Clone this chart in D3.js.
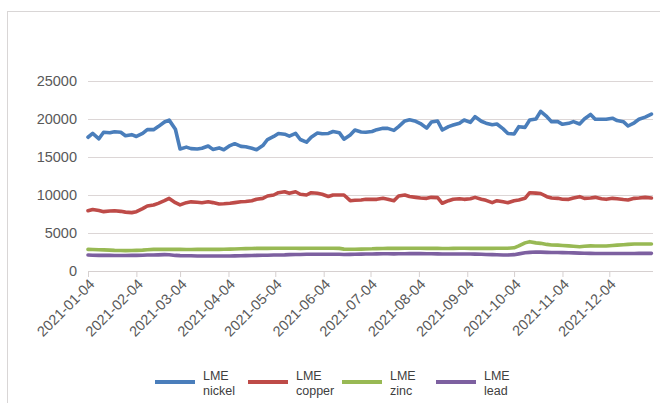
<!DOCTYPE html>
<html>
<head>
<meta charset="utf-8">
<script src="https://cdn.jsdelivr.net/npm/d3@7"></script>
<style>
body { margin: 0; background: #fff; }
svg { display: block; }
.axis text { font-family: "Liberation Sans", Arial, sans-serif; fill: #595959; }
</style>
</head>
<body>
<svg width="660" height="403"></svg>
<script>
// trading days sampled (Mon / Thu), year 2021
var dates = [
  "01-04","01-07","01-11","01-14","01-18","01-21","01-25","01-28",
  "02-01","02-04","02-08","02-11","02-15","02-18","02-22","02-25",
  "03-01","03-04","03-08","03-11","03-15","03-18","03-22","03-25","03-29",
  "04-01","04-05","04-08","04-12","04-15","04-19","04-22","04-26","04-29",
  "05-03","05-06","05-10","05-13","05-17","05-20","05-24","05-27","05-31",
  "06-03","06-07","06-10","06-14","06-17","06-21","06-24","06-28",
  "07-01","07-05","07-08","07-12","07-15","07-19","07-22","07-26","07-29",
  "08-02","08-05","08-09","08-12","08-16","08-19","08-23","08-26","08-30",
  "09-02","09-06","09-09","09-13","09-16","09-20","09-23","09-27","09-30",
  "10-04","10-07","10-11","10-14","10-18","10-21","10-25","10-28",
  "11-01","11-04","11-08","11-11","11-15","11-18","11-22","11-25","11-29",
  "12-02","12-06","12-09","12-13","12-16","12-20","12-23","12-27","12-31"
];

var nickel = [
  17600, 18100, 17400, 18250, 18200, 18330, 18250, 17800,
  17940, 17700, 18100, 18600, 18600, 19000, 19600, 19850,
  18650, 16050, 16300, 16100, 16050, 16150, 16450, 16000, 16200,
  15950, 16500, 16750, 16400, 16350, 16150, 15950, 16500, 17300,
  17700, 18100, 18000, 17750, 18100, 17300, 16950, 17600, 18150,
  18050, 18100, 18350, 18200, 17350, 17900, 18550, 18300,
  18250, 18350, 18600, 18770, 18770, 18500, 19000, 19750, 19900,
  19700, 19400, 18800, 19600, 19740, 18550, 19000, 19200, 19450,
  19870, 19550, 20300, 19700, 19450, 19250, 19340, 18700, 18100,
  18030, 18990, 18900, 19870, 20000, 21000, 20300, 19650,
  19650, 19300, 19430, 19650, 19350, 20000, 20600, 19960, 19960,
  19960, 20100, 19800, 19650, 19080, 19500, 19960, 20250, 20650
];

var copper = [
  7930, 8100, 7950, 7810, 7900, 7930, 7850, 7750,
  7680, 7800, 8200, 8550, 8680, 8900, 9250, 9550,
  8990, 8700, 8990, 9100, 9050, 8990, 9100, 9000, 8820,
  8850, 8910, 9000, 9120, 9150, 9250, 9450, 9560, 9870,
  10000, 10300, 10430, 10220, 10430, 10100, 10000, 10300, 10220,
  10100, 9800, 10000, 10000, 10000, 9250, 9300, 9350,
  9430, 9430, 9430, 9560, 9450, 9250, 9870, 10000, 9800,
  9690, 9600, 9560, 9690, 9650, 8910, 9250, 9450, 9500,
  9430, 9500, 9690, 9450, 9300, 8990, 9250, 9100, 8990,
  9250, 9350, 9560, 10300, 10250, 10200, 9780, 9600,
  9560, 9450, 9430, 9600, 9780, 9560, 9600, 9690, 9500,
  9430, 9560, 9500, 9400, 9340, 9560, 9600, 9690, 9600
];

var zinc = [
  2850, 2830, 2800, 2780, 2750, 2720, 2700, 2680,
  2700, 2720, 2750, 2800, 2850, 2850, 2850, 2850,
  2850, 2850, 2830, 2830, 2850, 2850, 2850, 2850, 2850,
  2870, 2880, 2900, 2930, 2950, 2960, 2980, 2980, 2980,
  2990, 3000, 3000, 3000, 2990, 2980, 2990, 3000, 3000,
  3000, 3000, 2990, 2980, 2880, 2860, 2870, 2880,
  2900, 2920, 2950, 2970, 2980, 2980, 2980, 2990, 2990,
  3000, 2990, 2980, 2980, 2980, 2970, 2970, 2980, 2990,
  2990, 2980, 2990, 2980, 2980, 2980, 2990, 3000, 3000,
  3050, 3300, 3700, 3860, 3700, 3640, 3500, 3420,
  3400, 3350, 3300, 3250, 3200, 3250, 3300, 3290, 3280,
  3290, 3350, 3400, 3450, 3500, 3550, 3550, 3550, 3550
];

var lead = [
  2100, 2080, 2050, 2050, 2050, 2040, 2030, 2030,
  2050, 2050, 2080, 2100, 2100, 2120, 2150, 2130,
  2050, 2020, 2000, 2000, 1980, 1980, 1970, 1970, 1970,
  1970, 1980, 1990, 2000, 2020, 2040, 2060, 2070, 2080,
  2100, 2100, 2120, 2150, 2170, 2180, 2200, 2200, 2200,
  2200, 2200, 2210, 2200, 2180, 2190, 2200, 2220,
  2240, 2240, 2250, 2260, 2260, 2250, 2260, 2270, 2280,
  2280, 2280, 2270, 2260, 2250, 2240, 2240, 2240, 2240,
  2240, 2230, 2220, 2200, 2180, 2150, 2130, 2100, 2100,
  2150, 2250, 2400, 2450, 2500, 2480, 2450, 2440,
  2430, 2420, 2400, 2380, 2350, 2330, 2320, 2300, 2300,
  2300, 2300, 2300, 2310, 2300, 2300, 2320, 2320, 2320
];

var seriesNames = ["LME nickel", "LME copper", "LME zinc", "LME lead"];
var colors = ["#4a7ebb", "#be4b48", "#98b954", "#7d60a0"];
var yTicks = [0, 5000, 10000, 15000, 20000, 25000];
var xTicks = ["2021-01-04","2021-02-04","2021-03-04","2021-04-04","2021-05-04","2021-06-04",
              "2021-07-04","2021-08-04","2021-09-04","2021-10-04","2021-11-04","2021-12-04"];

var parse = d3.timeParse("%Y-%m-%d");
var fmt = d3.timeFormat("%Y-%m-%d");

var lines = [nickel, copper, zinc, lead].map(function(vals, i) {
  return {
    id: seriesNames[i],
    values: vals.map(function(v, j) { return [parse("2021-" + dates[j]), v]; })
  };
});

var svg = d3.select("svg");
var margin = {top: 81, right: 7, bottom: 132, left: 88};
var width = svg.attr("width") - margin.left - margin.right;
var height = svg.attr("height") - margin.top - margin.bottom;

// chart frame
svg.append("rect")
    .attr("x", 7.5).attr("y", 11.5)
    .attr("width", 700).attr("height", 450)
    .attr("fill", "none")
    .attr("stroke", "#d9d6d6");

var g = svg.append("g").attr("transform", "translate(" + margin.left + "," + margin.top + ")");

var x = d3.scaleTime().domain([parse("2021-01-04"), parse("2022-01-01")]).range([0, width]);
var y = d3.scaleLinear().domain([0, 25000]).range([height, 0]);

// gridlines
g.append("g")
    .selectAll("line")
    .data(yTicks.slice(1))
    .enter().append("line")
    .attr("x1", 0).attr("x2", width)
    .attr("y1", function(d) { return Math.round(y(d)) + 0.5; })
    .attr("y2", function(d) { return Math.round(y(d)) + 0.5; })
    .attr("stroke", "#dcd6d6");

var y_axis = d3.axisLeft(y).tickValues(yTicks).tickSize(0).tickPadding(11).tickFormat(d3.format("d"));
g.append("g")
    .attr("class", "axis axis--y")
    .call(y_axis)
    .call(function(s) { s.select(".domain").remove(); })
    .selectAll("text")
    .style("font-size", "14.5px");

var x_axis = d3.axisBottom(x)
    .tickValues(xTicks.map(parse))
    .tickSize(6)
    .tickFormat(fmt);

var xg = g.append("g")
    .attr("class", "axis axis--x")
    .attr("transform", "translate(0," + height + ")")
    .call(x_axis);
xg.select(".domain").attr("stroke", "#d6d0d0").attr("d", "M0,0.5H" + width);
xg.selectAll(".tick line").attr("stroke", "#d6d0d0");
xg.selectAll(".tick text")
    .style("font-size", "14.5px")
    .attr("text-anchor", "end")
    .attr("dy", null)
    .attr("y", null)
    .attr("transform", "translate(7,14) rotate(-45)");

var line = d3.line()
    .x(function(d) { return x(d[0]); })
    .y(function(d) { return y(d[1]); });

var sel = g.selectAll(".series")
    .data(lines)
    .enter()
    .append("g")
    .attr("class", "series");

sel.append("path")
    .attr("d", function(d) { return line(d.values); })
    .attr("fill", "none")
    .attr("stroke-width", 3.6)
    .attr("stroke-linejoin", "round")
    .attr("stroke-linecap", "round")
    .style("stroke", function(d, i) { return colors[i]; });

// legend
var legendX = [155, 248, 342, 436];
var lg = svg.append("g")
    .selectAll("g")
    .data(lines)
    .enter().append("g")
    .attr("transform", function(d, i) { return "translate(" + legendX[i] + ",382)"; });

lg.append("line")
    .attr("x1", 0).attr("x2", 40)
    .attr("stroke-width", 4)
    .style("stroke", function(d, i) { return colors[i]; });

lg.append("text")
    .attr("x", 48).attr("y", -2)
    .style("font", "12.5px 'Liberation Sans', Arial, sans-serif")
    .style("fill", "#404040")
    .text("LME");

lg.append("text")
    .attr("x", 48).attr("y", 13)
    .style("font", "12.5px 'Liberation Sans', Arial, sans-serif")
    .style("fill", "#404040")
    .text(function(d) { return d.id.split(" ")[1]; });
</script>
</body>
</html>
